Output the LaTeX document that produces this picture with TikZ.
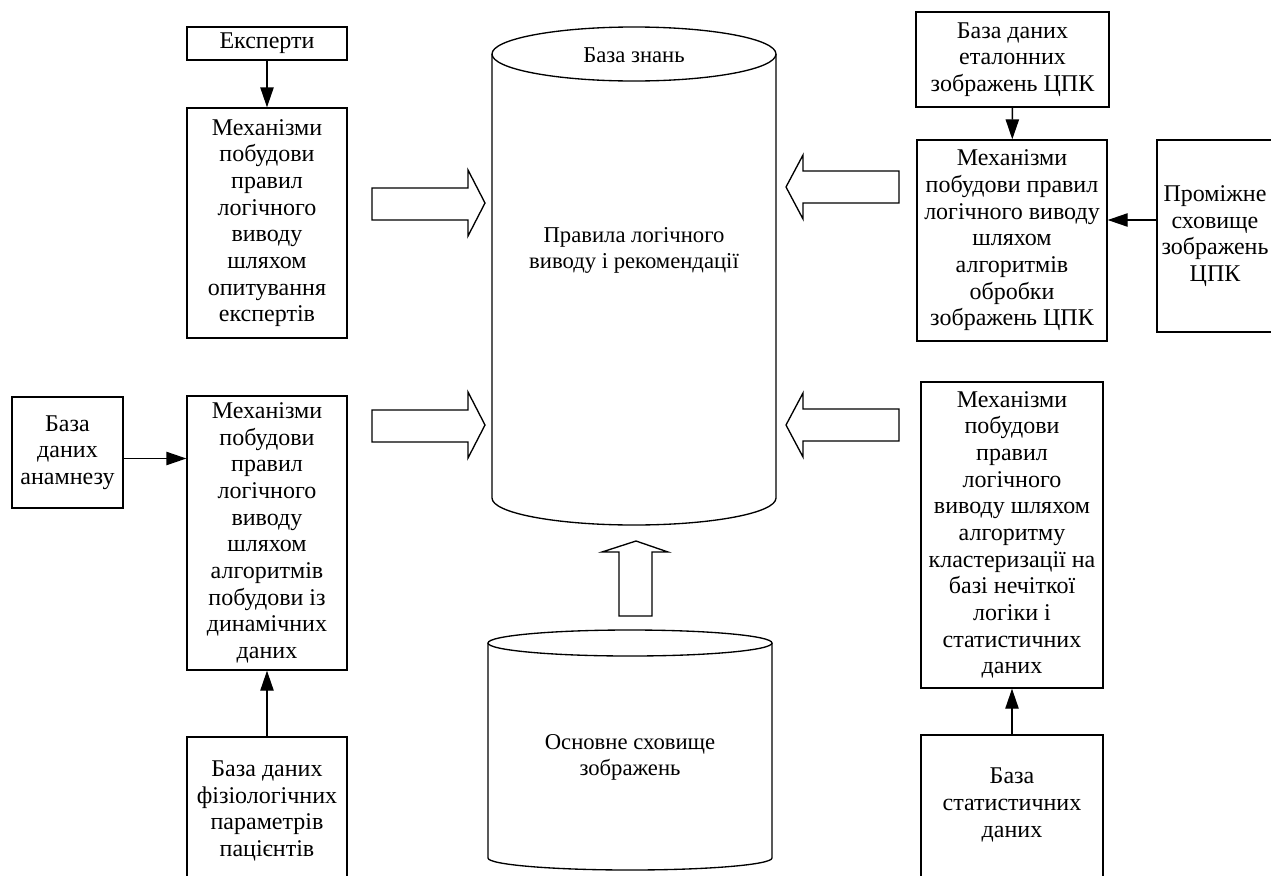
\documentclass[tikz,border=0pt]{standalone}
\usepackage{fontspec}
\setmainfont{Liberation Serif}
\usetikzlibrary{arrows.meta}

\tikzset{
    blk/.style={draw, rectangle, inner sep=0pt, align=center, font=\fontsize{18}{20}\selectfont},
    lbl/.style={align=center, font=\fontsize{17}{19.5}\selectfont},
    conn/.style={-{Triangle[length=15pt, width=10pt]}},
    bigarrow/.style={draw, fill=white}
}

\begin{document}
\begin{tikzpicture}[x=0.75pt, y=-0.75pt, line width=1pt]
            \clip (0,0) rectangle (1271,875);
            \fill[white] (0,0) rectangle (1271,875);

            % knowledge base
            \draw (492,54) -- (492,498) .. controls (492,512.9) and (555.6,525) .. (634,525)
                .. controls (712.4,525) and (776,512.9) .. (776,498) -- (776,54);
            \draw (634,54) ellipse [x radius=106.5pt, y radius=20.25pt];
            \node[lbl] (kbtitle) at (634,55) {База знань};
            \node[lbl] (kbrules) at (634,250) {Правила логічного\\виводу і рекомендації};

            % image storage
            \draw (488,643) -- (488,858) .. controls (488,864.6) and (551.6,870) .. (630,870)
                .. controls (708.4,870) and (772,864.6) .. (772,858) -- (772,643);
            \draw (630,643) ellipse [x radius=106.5pt, y radius=9.75pt];
            \node[lbl] (store) at (630,757) {Основне сховище\\зображень};

            % left column
            \node[blk, minimum width=120pt, minimum height=24.75pt] (expert) at (267,43.5) {Експерти};
            \node[blk, minimum width=120pt, minimum height=172.5pt] (mechA) at (267,223)
                {Механізми\\побудови\\правил\\логічного\\виводу\\шляхом\\опитування\\експертів};
            \node[blk, minimum width=83.25pt, minimum height=83.25pt] (anam) at (67.5,452.5)
                {База\\даних\\анамнезу};
            \node[blk, minimum width=120pt, minimum height=205.5pt] (mechB) at (267,533)
                {Механізми\\побудови\\правил\\логічного\\виводу\\шляхом\\алгоритмів\\побудови із\\динамічних\\даних};
            \node[blk, minimum width=120pt, minimum height=122.25pt] (physio) at (267,818.5) {};
            \node[blk, draw=none] (physiotext) at (267,811) {База даних\\фізіологічних\\параметрів\\пацієнтів};

            % right column
            \node[blk, minimum width=144.75pt, minimum height=71.25pt] (etalon) at (1012.5,59.5)
                {База даних\\еталонних\\зображень ЦПК};
            \node[blk, minimum width=142.5pt, minimum height=150.75pt] (mechC) at (1012,240.5)
                {Механізми\\побудови правил\\логічного виводу\\шляхом\\алгоритмів\\обробки\\зображень ЦПК};
            \node[blk, minimum width=87pt, minimum height=144pt] (prom) at (1215,236)
                {Проміжне\\сховище\\зображень\\ЦПК};
            \node[blk, minimum width=136.5pt, minimum height=229.5pt] (mechD) at (1012,535)
                {Механізми\\побудови\\правил\\логічного\\виводу шляхом\\алгоритму\\кластеризації на\\базі нечіткої\\логіки і\\статистичних\\даних};
            \node[blk, minimum width=136.5pt, minimum height=123.75pt] (stat) at (1012,817.5) {};
            \node[blk, draw=none] (stattext) at (1012,805) {База\\статистичних\\даних};

            % connectors
            \draw[conn] (expert) -- (mechA);
            \draw[conn] (etalon) -- (mechC);
            \draw[conn] ([yshift=12pt]prom.west) -- ([yshift=12pt]prom.west -| mechC.east);
            \draw[conn] ([yshift=-4.5pt]anam.east) -- ([yshift=-4.5pt]anam.east -| mechB.west);
            \draw[conn] (physio.north) -- (mechB.south);
            \draw[conn] (stat.north) -- (mechD.south);

            % hollow arrows
            \draw[bigarrow] (372,188) -- (468,188) -- (468,170) -- (485,203) -- (468,236) -- (468,220) -- (372,220) -- cycle;
            \draw[bigarrow, shift={(0,222)}] (372,188) -- (468,188) -- (468,170) -- (485,203) -- (468,236) -- (468,220) -- (372,220) -- cycle;
            \draw[bigarrow] (899,171) -- (803,171) -- (803,155) -- (786,187) -- (803,219) -- (803,203) -- (899,203) -- cycle;
            \draw[bigarrow, shift={(0,238)}] (899,171) -- (803,171) -- (803,155) -- (786,187) -- (803,219) -- (803,203) -- (899,203) -- cycle;
            \draw[bigarrow] (619,616) -- (619,552) -- (602,552) -- (636,541) -- (668,552) -- (652,552) -- (652,616) -- cycle;
\end{tikzpicture}
\end{document}
